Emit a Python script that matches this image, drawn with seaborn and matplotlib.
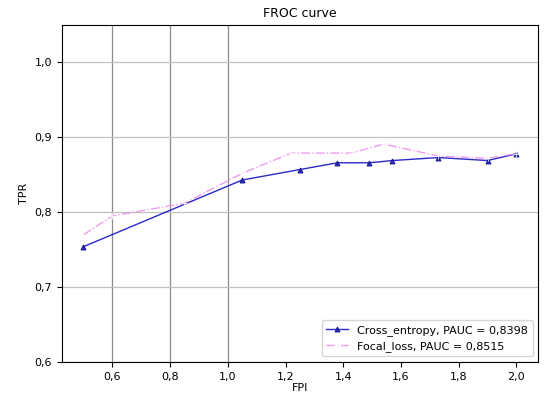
import matplotlib
matplotlib.use('Agg')
import matplotlib.pyplot as plt
from matplotlib.ticker import FuncFormatter
import seaborn as sns

# FROC points
ce_fpi = [0.5, 1.05, 1.25, 1.38, 1.49, 1.57, 1.73, 1.90, 2.0]
ce_tpr = [0.754, 0.843, 0.857, 0.866, 0.866, 0.869, 0.873, 0.869, 0.878]

fl_fpi = [0.5, 0.6, 0.85, 1.05, 1.22, 1.43, 1.54, 1.73, 1.90, 2.0]
fl_tpr = [0.770, 0.795, 0.812, 0.852, 0.879, 0.879, 0.891, 0.875, 0.872, 0.878]

ce_label = 'Cross_entropy, PAUC = 0,8398'
fl_label = 'Focal_loss, PAUC = 0,8515'

vlines = [0.6, 0.8, 1.0]

fig, ax = plt.subplots(figsize=(5.57, 4.0), dpi=100)
fig.subplots_adjust(left=0.111, right=0.966, bottom=0.095, top=0.9375)

ax.yaxis.grid(True, color='#c0c0c0', linewidth=0.9)
for v in vlines:
    ax.axvline(v, color='#8c8c8c', linewidth=0.9, zorder=0)

sns.lineplot(x=ce_fpi, y=ce_tpr, ax=ax, color='#2a2ac8', marker='^',
             markersize=3.5, linewidth=1, label=ce_label, markeredgecolor='#1a1a90')
sns.lineplot(x=fl_fpi, y=fl_tpr, ax=ax, color='violet', marker='+',
             markersize=4, linewidth=1, linestyle='-.', label=fl_label, alpha=0.8)

ax.set_ylim(0.6, 1.05)
ax.set_yticks([0.6, 0.7, 0.8, 0.9, 1.0])
ax.set_xticks([0.6, 0.8, 1.0, 1.2, 1.4, 1.6, 1.8, 2.0])
comma = FuncFormatter(lambda v, p: f'{v:.1f}'.replace('.', ','))
ax.xaxis.set_major_formatter(comma)
ax.yaxis.set_major_formatter(comma)
ax.tick_params(labelsize=8)

ax.set_title('FROC curve', fontsize=9)
ax.set_xlabel('FPI', fontsize=8, labelpad=1)
ax.set_ylabel('TPR', fontsize=8)
ax.legend(loc='lower right', fontsize=8)

plt.savefig('out.png', dpi=100)
